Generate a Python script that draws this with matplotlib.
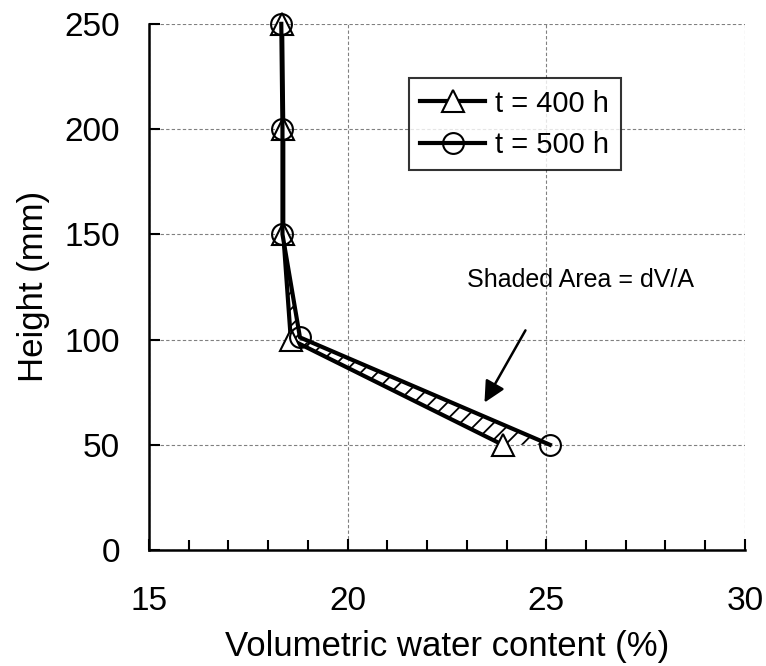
import matplotlib.pyplot as plt
from matplotlib.ticker import MultipleLocator

plt.rcParams['font.family'] = ['Liberation Sans', 'DejaVu Sans']
plt.rcParams['hatch.linewidth'] = 1.3

# data
height = [250, 200, 150, 100, 50]
wc_400 = [18.35, 18.38, 18.38, 18.57, 23.90]
wc_500 = [18.33, 18.36, 18.36, 18.80, 25.09]
height_500 = [250, 200, 150, 101, 50]

fig = plt.figure(figsize=(7.66, 6.66), dpi=100)
ax = fig.add_axes([0.1945, 0.1742, 0.778, 0.79])

# hatched area between the two profiles
ax.fill_betweenx(height, wc_400, wc_500, facecolor='none', edgecolor='black',
                 hatch='//', linewidth=0)

ax.plot(wc_400, height, color='black', linewidth=3, marker='^', markersize=16,
        markerfacecolor='white', markeredgecolor='black', markeredgewidth=1.5,
        label='t = 400 h', clip_on=False)
ax.plot(wc_500, height_500, color='black', linewidth=3, marker='o', markersize=15,
        markerfacecolor='none', markeredgecolor='black', markeredgewidth=1.5,
        label='t = 500 h', clip_on=False)

ax.set_xlim(15, 30)
ax.set_ylim(0, 250)
ax.xaxis.set_major_locator(MultipleLocator(5))
ax.xaxis.set_minor_locator(MultipleLocator(1))
ax.yaxis.set_major_locator(MultipleLocator(50))
ax.tick_params(axis='both', which='both', direction='in', labelsize=24, width=1.5)
ax.tick_params(axis='x', which='both', pad=26)
ax.tick_params(axis='y', which='both', pad=21)
ax.tick_params(axis='both', which='major', length=8)
ax.tick_params(axis='x', which='minor', length=7)

ax.grid(True, which='major', color='gray', linestyle=(0, (3, 2)), linewidth=0.8)
for side in ['top', 'right']:
    ax.spines[side].set_visible(False)
for side in ['left', 'bottom']:
    ax.spines[side].set_linewidth(1.8)

ax.set_xlabel('Volumetric water content (%)', fontsize=25, labelpad=9)
ax.set_ylabel('Height (mm)', fontsize=25, labelpad=10)

leg = ax.legend(loc='upper left', bbox_to_anchor=(0.436, 0.897), fontsize=21,
                frameon=True, fancybox=False, edgecolor='black', borderaxespad=0,
                handlelength=2.2, handletextpad=0.35, borderpad=0.4,
                labelspacing=0.45)
leg.get_frame().set_linewidth(1.5)

ax.annotate('', xy=(23.41, 68.9), xytext=(24.51, 105.5),
            arrowprops=dict(arrowstyle='-|>', color='black', lw=1.8,
                            mutation_scale=32))
ax.text(25.85, 128.3, 'Shaded Area = dV/A', fontsize=18, ha='center', va='center')

fig.savefig('out.png', dpi=100)
